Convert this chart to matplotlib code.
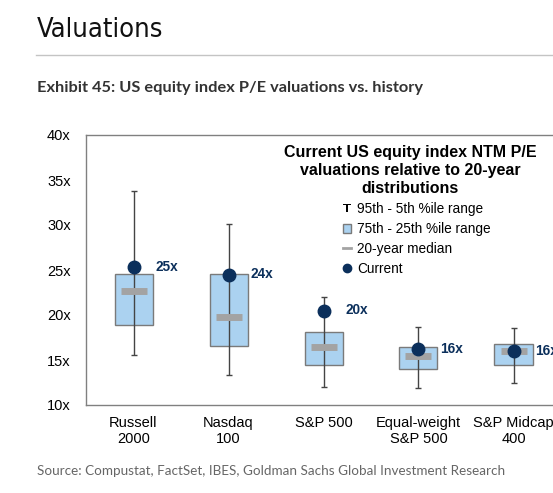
import matplotlib
matplotlib.use("Agg")
import matplotlib.pyplot as plt
from matplotlib.lines import Line2D
from matplotlib.patches import Patch
import numpy as np

# data
indices = ["Russell\n2000", "Nasdaq\n100", "S&P 500", "Equal-weight\nS&P 500", "S&P Midcap\n400"]
p95 = [33.8, 30.1, 22.0, 18.7, 18.6]
p5 = [15.6, 13.3, 12.0, 11.9, 12.4]
p75 = [24.6, 24.6, 18.15, 16.5, 16.75]
p25 = [18.85, 16.6, 14.5, 14.0, 14.5]
median = [22.7, 19.75, 16.5, 15.5, 16.0]
current = [25.3, 24.5, 20.5, 16.25, 15.95]
current_labels = ["25x", "24x", "20x", "16x", "16x"]

box_color = "#abd2f0"
navy = "#0b2f5b"

fig = plt.figure(figsize=(5.53, 4.93), dpi=100)
ax = fig.add_axes([86 / 553, 1 - 405 / 493, 475 / 553, 270 / 493])

x = np.arange(len(indices))
p95 = np.array(p95); p5 = np.array(p5)
p75 = np.array(p75); p25 = np.array(p25)
median = np.array(median); current = np.array(current)

ax.bar(x, p75 - p25, bottom=p25, width=0.4, color=box_color,
       edgecolor="#7a7a7a", linewidth=1, zorder=2)
ax.errorbar(x, median, yerr=[median - p5, p95 - median], fmt="none",
            ecolor="#444444", elinewidth=1, capsize=2.5, capthick=1, zorder=3)
ax.plot(x, median, ls="none", marker="_", markersize=19, mew=5,
        color="#a3a3a3", zorder=4)
ax.plot(x, current, ls="none", marker="o", markersize=9, color=navy, zorder=5)
for xi, yi, lab in zip(x, current, current_labels):
    ax.text(xi + 0.23, yi, lab, ha="left", va="center", fontsize=9.8,
            fontweight="bold", color=navy, family="Liberation Sans")

ax.set_xlim(-0.5, len(indices) - 0.5)
ax.set_ylim(10, 40)
ax.set_yticks(np.arange(10, 41, 5))
ax.set_yticklabels([f"{v}x" for v in range(10, 41, 5)])
ax.set_xticks(x)
ax.set_xticklabels(indices)
ax.tick_params(length=0, labelsize=10.5, colors="black")
ax.tick_params(axis="y", pad=11)
ax.tick_params(axis="x", pad=8)
for lab in ax.get_xticklabels() + ax.get_yticklabels():
    lab.set_family("Liberation Sans")
for s in ax.spines.values():
    s.set_color("#808080")
    s.set_linewidth(1)

# inset legend
ax.text(0.683, 0.962, "Current US equity index NTM P/E\nvaluations relative to 20-year\ndistributions",
        transform=ax.transAxes, ha="center", va="top", fontsize=11.5,
        fontweight="bold", family="Liberation Sans", linespacing=1.22)
handles = [
    Line2D([], [], ls="none", marker="$\\mathsf{T}$", markersize=6, mew=0, color="black"),
    Patch(facecolor=box_color, edgecolor="#7a7a7a"),
    Line2D([], [], color="#a3a3a3", lw=2),
    Line2D([], [], ls="none", marker="o", markersize=6, color=navy),
]
names = ["95th - 5th %ile range", "75th - 25th %ile range", "20-year median", "Current"]
ax.legend(handles, names, loc="upper left", bbox_to_anchor=(0.52, 0.787),
          frameon=False, handlelength=0.65, handleheight=0.65, handletextpad=0.45,
          labelspacing=0.44, borderpad=0.2,
          prop={"family": "Liberation Sans", "size": 9.8})

# header and footer
fig.text(37 / 553, 1 - 30 / 493, "Valuations", fontsize=19.5,
         family="DejaVu Sans", fontstretch="condensed",
         va="center", ha="left", color="#111111")
fig.add_artist(Line2D([36 / 553, 1], [1 - 55 / 493] * 2, color="#c4c4c4", lw=1))
fig.text(37 / 553, 1 - 88 / 493, "Exhibit 45: US equity index P/E valuations vs. history",
         fontsize=11.8, fontweight="bold", family="Lato", va="center", ha="left",
         color="#333333")
fig.text(37 / 553, 1 - 471 / 493,
         "Source: Compustat, FactSet, IBES, Goldman Sachs Global Investment Research",
         fontsize=9.7, family="Lato", va="center", ha="left", color="#666666")

fig.savefig("out.png", dpi=100)
